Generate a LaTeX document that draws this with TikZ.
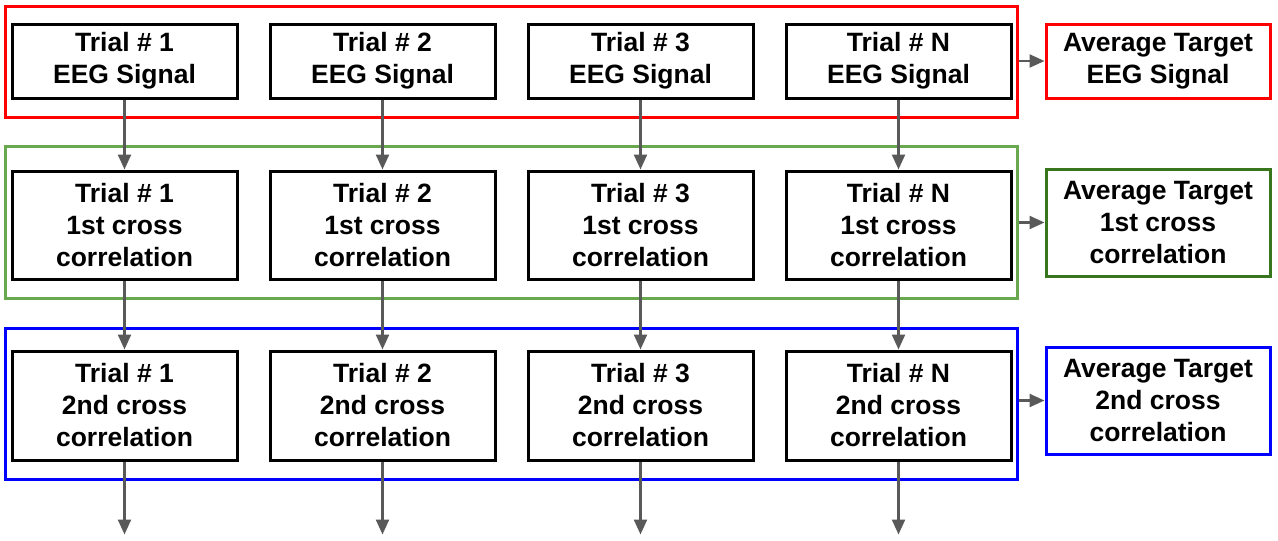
\documentclass[tikz,border=0pt]{standalone}
\usepackage{fontspec}
\setmainfont{Liberation Sans}
\usepackage{tikz}
\usetikzlibrary{arrows.meta, positioning}

\definecolor{arrgray}{HTML}{595959}
\definecolor{frgreen}{HTML}{6AA84F}
\definecolor{avgreen}{HTML}{38761D}

\begin{document}
\begin{tikzpicture}[x=1pt, y=1pt,
    font=\bfseries\fontsize{26.5}{32}\selectfont,
    trial/.style={draw, line width=3pt, minimum width=225pt, align=center, inner sep=0pt},
    avg/.style={draw=#1, line width=3pt, minimum width=224pt, align=center, inner sep=0pt},
    frame/.style={draw=#1, line width=3pt, minimum width=1012pt, inner sep=0pt},
    arr/.style={-{Triangle[length=15pt, width=13pt]}, line width=2.3pt, arrgray},
    ]
    \useasboundingbox (0,0) rectangle (1278,-541);

    % Group frames
    \node[frame=red, minimum height=111pt] (frEEG) at (511,-61.5) {};
    \node[frame=frgreen, minimum height=152pt] (frCCA) at (511,-222) {};
    \node[frame=blue, minimum height=151pt] (frCCB) at (511,-403.5) {};

    % EEG signals
    \node[trial, minimum height=74pt] (eeg1) at (124.5,-61) {Trial \# 1\\EEG Signal};
    \node[trial, minimum height=74pt, right=30pt of eeg1] (eeg2) {Trial \# 2\\EEG Signal};
    \node[trial, minimum height=74pt, right=30pt of eeg2] (eeg3) {Trial \# 3\\EEG Signal};
    \node[trial, minimum height=74pt, right=30pt of eeg3] (eeg4) {Trial \# N\\EEG Signal};

    % 1st cross correlation
    \node[trial, minimum height=108pt] (cca1) at (124.5,-225) {Trial \# 1\\1st cross\\correlation};
    \node[trial, minimum height=108pt, right=30pt of cca1] (cca2) {Trial \# 2\\1st cross\\correlation};
    \node[trial, minimum height=108pt, right=30pt of cca2] (cca3) {Trial \# 3\\1st cross\\correlation};
    \node[trial, minimum height=108pt, right=30pt of cca3] (cca4) {Trial \# N\\1st cross\\correlation};

    % 2nd cross correlation
    \node[trial, minimum height=109pt] (ccb1) at (124.5,-405.5) {Trial \# 1\\2nd cross\\correlation};
    \node[trial, minimum height=109pt, right=30pt of ccb1] (ccb2) {Trial \# 2\\2nd cross\\correlation};
    \node[trial, minimum height=109pt, right=30pt of ccb2] (ccb3) {Trial \# 3\\2nd cross\\correlation};
    \node[trial, minimum height=109pt, right=30pt of ccb3] (ccb4) {Trial \# N\\2nd cross\\correlation};

    % Averages
    \node[avg=red, minimum height=74pt] (avgEEG) at (1158,-61) {Average Target\\EEG Signal};
    \node[avg=avgreen, minimum height=107pt] (avgCCA) at (1158,-222.5) {Average Target\\1st cross\\correlation};
    \node[avg=blue, minimum height=107pt] (avgCCB) at (1158,-400.5) {Average Target\\2nd cross\\correlation};

    % Arrows down the columns
    \foreach \i in {1,2,3,4} {
      \coordinate (out\i) at ([yshift=-73pt]ccb\i.south);
      \draw[arr] (eeg\i.south) -- (cca\i.north);
      \draw[arr] (cca\i.south) -- (ccb\i.north);
      \draw[arr] (ccb\i.south) -- (out\i);
    }

    % Arrows to the averages
    \draw[arr] (avgEEG.west -| frEEG.east) -- (avgEEG.west);
    \draw[arr] (avgCCA.west -| frCCA.east) -- (avgCCA.west);
    \draw[arr] (avgCCB.west -| frCCB.east) -- (avgCCB.west);
  \end{tikzpicture}
\end{document}
